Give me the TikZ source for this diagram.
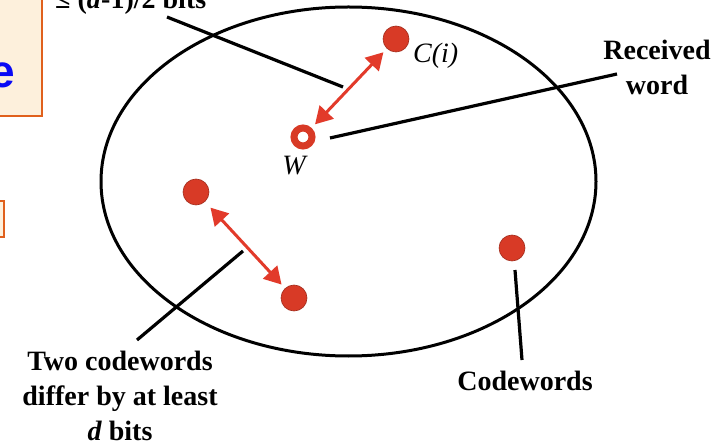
\documentclass[tikz,border=0pt]{standalone}
\usepackage{fontspec}
\setmainfont{Liberation Serif}
\newfontfamily\sansfam{Liberation Sans}
\usetikzlibrary{arrows.meta,shapes.geometric}
\definecolor{dotred}{HTML}{D83A26}
\definecolor{arrred}{HTML}{E23A2A}
\definecolor{boxfill}{HTML}{FDF0DC}
\definecolor{boxedge}{HTML}{E0601C}
\definecolor{txtblue}{HTML}{0A0AF5}
\begin{document}
\begin{tikzpicture}[x=1pt,y=-1pt,
  codeword/.style={circle,fill=dotred,draw=dotred!75!black,line width=0.6pt,minimum size=26pt,inner sep=0pt},
  recvd/.style={circle,draw=dotred,line width=7pt,fill=white,minimum size=18pt,inner sep=0pt},
  dist/.style={arrred,line width=3pt,{Triangle[length=17pt,width=19pt]}-{Triangle[length=17pt,width=19pt]}},
  leader/.style={black,line width=3.2pt},
  lbl/.style={font=\fontsize{28}{35}\selectfont\bfseries,align=center,inner sep=0pt},
  ital/.style={font=\fontsize{28}{34}\selectfont\itshape,inner sep=0pt},
  slidebox/.style={draw=boxedge,fill=boxfill,line width=2.5pt}
]
\useasboundingbox[fill=white] (0,0) rectangle (720,446);

% slide boxes at the left edge
\draw[slidebox] (-10,-10) rectangle (42,116);
\draw[slidebox] (-10,201) rectangle (4,237);
\node[anchor=base east,inner sep=0pt,text=txtblue,font=\sansfam\bfseries\fontsize{46}{46}\selectfont] (ewrd) at (15.5,88) {e};

% code space
\node[draw,ellipse,line width=3pt,minimum width=495pt,minimum height=349pt,inner sep=0pt] (space) at (348.5,181.5) {};

% codewords and received word
\node[codeword] (ci) at (396,39) {};
\node[recvd] (w) at (303,137) {};
\node[codeword] (ca) at (196,192) {};
\node[codeword] (cb) at (294,298) {};
\node[codeword] (cc) at (512,248) {};

% distance arrows
\draw[dist,shorten <=5pt,shorten >=5pt] (ci) -- (w);
\draw[dist,shorten <=8pt,shorten >=5pt] (ca) -- (cb);

% labels
\node[lbl,anchor=base west] (halfd) at (55,9) {≤ (\textit{d}-1)/2 bits};
\node[ital,anchor=base west] (cilbl) at (413,63) {\textit{C}(\textit{i})};
\node[ital,anchor=base] (wlbl) at (294,175) {W};
\node[lbl,anchor=base] (rcv) at (657,95) {Received\\word};
\node[lbl,anchor=base] (two) at (120,440) {Two codewords\\differ by at least\\\textit{d} bits};
\node[lbl,anchor=base] (cws) at (525,390) {Codewords};

% leader lines
\coordinate (h1) at (167,17);
\coordinate (h2) at (343,87);
\coordinate (r1) at (617,74);
\coordinate (r2) at (330,138);
\coordinate (t1) at (137,340);
\coordinate (t2) at (243,251);
\coordinate (c1) at (522,360);
\coordinate (c2) at (515,270);
\draw[leader] (h1) -- (h2);
\draw[leader] (r1) -- (r2);
\draw[leader] (t1) -- (t2);
\draw[leader] (c1) -- (c2);
\end{tikzpicture}
\end{document}
